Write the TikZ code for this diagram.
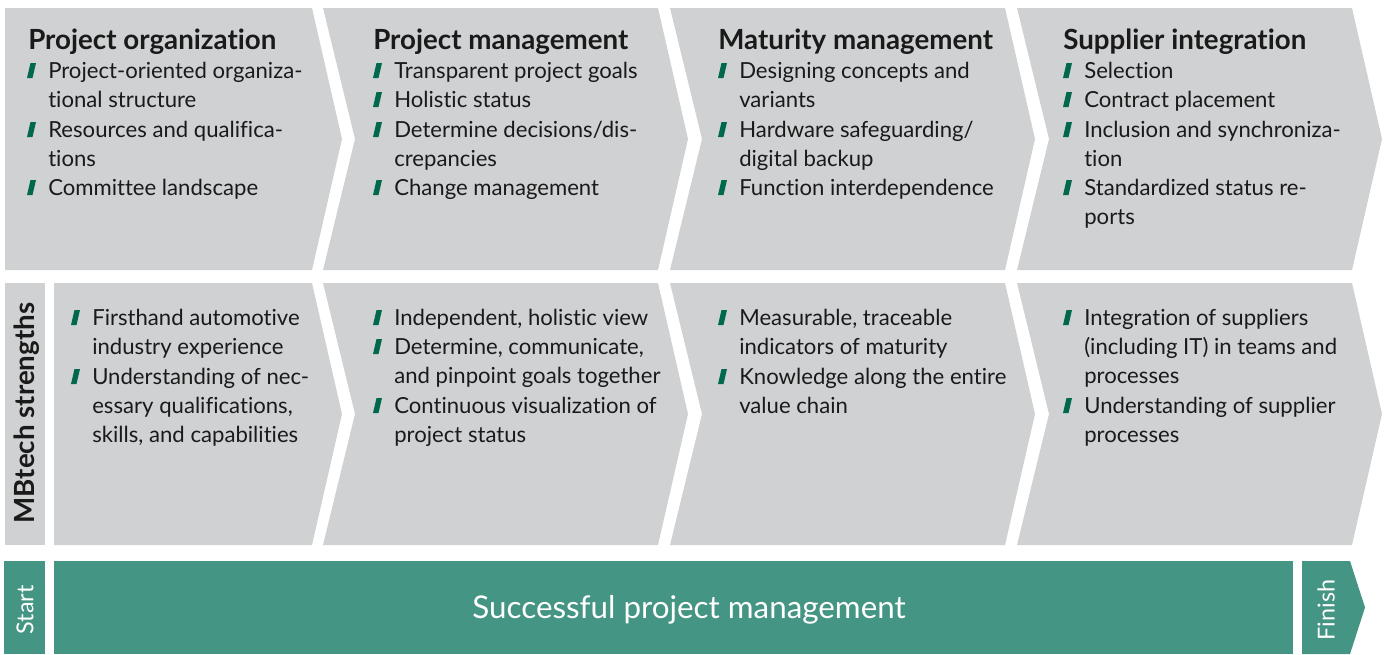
\documentclass[tikz,border=0pt]{standalone}
\usepackage{fontspec}
\setmainfont{Lato}[Ligatures=NoCommon]
\definecolor{grau}{RGB}{208,209,211}
\definecolor{petrol}{RGB}{69,149,132}
\definecolor{gruen}{RGB}{0,104,77}
\definecolor{schrift}{RGB}{26,26,26}
\newcommand{\kopf}{\fontsize{20.8}{25}\selectfont\bfseries}
\newcommand{\txt}{\fontsize{16.6}{22}\selectfont}
\newcommand{\klein}{\fontsize{17.5}{20}\selectfont}
\tikzset{
 titel/.style={anchor=base west, inner sep=0pt, font=\kopf, text=schrift},
 punkt/.style={anchor=base west, inner sep=0pt, font=\txt, text=schrift},
}
% Pfeil mit Kerbe: x links, y oben, y unten
\newcommand{\pfeil}[3]{\fill[grau] (#1,#2) -- (#1+335,#2) -- (#1+365,{(#2+#3)/2}) -- (#1+335,#3) -- (#1,#3) -- (#1+32,{(#2+#3)/2}) -- cycle;}
% Aufzaehlungspunkt + Text: Name, x, y (Grundlinie erste Zeile), Text
\newcommand{\pkt}[4]{\fill[gruen] (#2-21,#3) -- ++(5.5,0) -- ++(3.5,-15) -- ++(-5.5,0) -- cycle;
 \node[punkt] (#1) at (#2,#3) {\begin{tabular}[t]{@{}l@{}}#4\end{tabular}};}
\begin{document}
\begin{tikzpicture}[x=0.75pt, y=-0.75pt, line join=round]
\useasboundingbox (0,0) rectangle (1387,654);
% Zeile 1 und 2: Pfeile
\fill[grau] (5,8) -- (312,8) -- (342,139) -- (312,270) -- (5,270) -- cycle;
\fill[grau] (54,283) -- (312,283) -- (342,414) -- (312,545) -- (54,545) -- cycle;
\foreach \x in {323,670,1017}{
 \pfeil{\x}{8}{270}
 \pfeil{\x}{283}{545}
}
% linke Spalte
\fill[grau] (5,283) rectangle (45,545);
\node[rotate=90, font=\kopf, text=schrift] (mbt) at (27,413) {MBtech strengths};
% Zeile 3: Start - Balken - Finish
\fill[petrol] (4,561) rectangle (45,654);
\fill[petrol] (54,561) rectangle (1293,654);
\fill[petrol] (1302,561) -- (1350,561) -- (1365,607.5) -- (1350,654) -- (1302,654) -- cycle;
\node[rotate=90, white, font=\klein] (start) at (25,610) {Start};
\node[rotate=90, white, font=\klein] (finish) at (1326,610) {Finish};
\node[white, font=\fontsize{23.5}{28}\selectfont] (erfolg) at (689,610) {Successful project management};
% Ueberschriften
\node[titel] (h1) at (28,49) {Project organization};
\node[titel] (h2) at (373,49) {Project management};
\node[titel] (h3) at (718,49) {Maturity management};
\node[titel] (h4) at (1063,49) {Supplier integration};
% Punkte Zeile 1
\pkt{a1}{48}{78}{Project-oriented organiza-\\tional structure}
\pkt{a2}{48}{137}{Resources and qualifica-\\tions}
\pkt{a3}{48}{195}{Committee landscape}
\pkt{b1}{394}{78}{Transparent project goals}
\pkt{b2}{394}{107}{Holistic status}
\pkt{b3}{394}{137}{Determine decisions/dis-\\crepancies}
\pkt{b4}{394}{195}{Change management}
\pkt{c1}{739}{78}{Designing concepts and\\variants}
\pkt{c2}{739}{137}{Hardware safeguarding/\\digital backup}
\pkt{c3}{739}{195}{Function interdependence}
\pkt{d1}{1084}{78}{Selection}
\pkt{d2}{1084}{107}{Contract placement}
\pkt{d3}{1084}{137}{Inclusion and synchroniza-\\tion}
\pkt{d4}{1084}{195}{Standardized status re-\\ports}
% Punkte Zeile 2
\pkt{e1}{92}{325}{Firsthand automotive\\industry experience}
\pkt{e2}{92}{384}{Understanding of nec-\\essary qualifications,\\skills, and capabilities}
\pkt{f1}{394}{325}{Independent, holistic view}
\pkt{f2}{394}{354}{Determine, communicate,\\and pinpoint goals together}
\pkt{f3}{394}{413}{Continuous visualization of\\project status}
\pkt{g1}{739}{325}{Measurable, traceable\\indicators of maturity}
\pkt{g2}{739}{384}{Knowledge along the entire\\value chain}
\pkt{k1}{1084}{325}{Integration of suppliers\\(including IT) in teams and\\processes}
\pkt{k2}{1084}{413}{Understanding of supplier\\processes}
\end{tikzpicture}
\end{document}
